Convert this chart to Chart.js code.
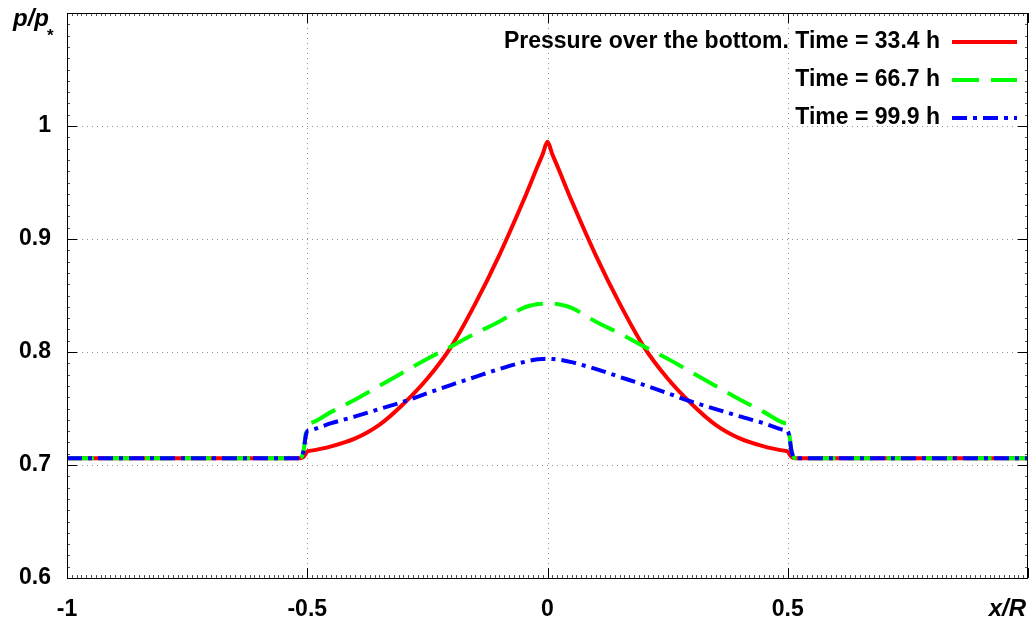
<!DOCTYPE html>
<html>
<head>
<meta charset="utf-8">
<script src="https://cdn.jsdelivr.net/npm/chart.js@4/dist/chart.umd.min.js"></script>
<style>
html,body{margin:0;padding:0;background:#fff;}
#wrap{position:relative;width:1030px;height:624px;}
</style>
</head>
<body>
<div id="wrap"><canvas id="c" width="1030" height="624"></canvas></div>
<script>
// x/R positions
const xValues = [-1, -0.515, -0.508, -0.503, -0.5, -0.495, -0.45, -0.4, -0.35, -0.3, -0.25, -0.2, -0.15, -0.1, -0.05, -0.02, -0.01, 0,
                 0.01, 0.02, 0.05, 0.1, 0.15, 0.2, 0.25, 0.3, 0.35, 0.4, 0.45, 0.495, 0.5, 0.503, 0.508, 0.515, 1];
// p/p* series
const time33 = [0.706, 0.706, 0.707, 0.710, 0.712, 0.7125, 0.7165, 0.7235, 0.7355, 0.754, 0.7765, 0.805, 0.843, 0.886, 0.934, 0.965, 0.975, 0.986,
                0.975, 0.965, 0.934, 0.886, 0.843, 0.805, 0.7765, 0.754, 0.7355, 0.7235, 0.7165, 0.7125, 0.712, 0.710, 0.707, 0.706, 0.706];
const time66 = [0.706, 0.706, 0.712, 0.728, 0.736, 0.737, 0.747, 0.758, 0.770, 0.782, 0.794, 0.805, 0.8165, 0.827, 0.839, 0.8424, 0.8428, 0.843,
                0.8428, 0.8424, 0.839, 0.827, 0.8165, 0.805, 0.794, 0.782, 0.770, 0.758, 0.747, 0.737, 0.736, 0.728, 0.712, 0.706, 0.706];
const time99 = [0.706, 0.706, 0.712, 0.726, 0.730, 0.7307, 0.737, 0.743, 0.7495, 0.756, 0.7635, 0.771, 0.778, 0.785, 0.791, 0.7935, 0.7938, 0.794,
                0.7938, 0.7935, 0.791, 0.785, 0.778, 0.771, 0.7635, 0.756, 0.7495, 0.743, 0.737, 0.7307, 0.730, 0.726, 0.712, 0.706, 0.706];
const seriesLabels = ["Pressure over the bottom. Time = 33.4 h", "Time = 66.7 h", "Time = 99.9 h"];
const xMajorTicks = [-1, -0.5, 0, 0.5, 1];
const yMajorTicks = [0.6, 0.7, 0.8, 0.9, 1.0, 1.1];
const yAxisTitle = "p/p";
const yAxisTitleSub = "*";
const xAxisTitle = "x/R";

const FONT = "'Liberation Sans', Arial, sans-serif";

function pts(ys){ return xValues.map((x,i)=>({x:x, y:ys[i]})); }

const colors = ['#ff0000', '#00ff00', '#0000ff'];
const dashes = [[], [27, 12], [15, 6, 4, 6]];

const framePlugin = {
  id: 'frame',
  beforeDatasetsDraw(chart){
    const {ctx, chartArea:a, scales:{x, y}} = chart;
    ctx.save();
    ctx.strokeStyle = '#909090';
    ctx.lineWidth = 1;
    ctx.setLineDash([1, 4]);
    xMajorTicks.forEach(v=>{
      if (v <= -1 || v >= 1) return;
      const px = Math.round(x.getPixelForValue(v)) + 0.5;
      ctx.beginPath(); ctx.moveTo(px, a.top); ctx.lineTo(px, a.bottom); ctx.stroke();
    });
    yMajorTicks.forEach(v=>{
      if (v <= 0.6 || v >= 1.1) return;
      const py = Math.round(y.getPixelForValue(v)) + 0.5;
      ctx.beginPath(); ctx.moveTo(a.left, py); ctx.lineTo(a.right, py); ctx.stroke();
    });
    ctx.restore();
  },
  afterDatasetsDraw(chart){
    const {ctx, chartArea:a, scales:{x, y}} = chart;
    ctx.save();
    ctx.setLineDash([]);
    ctx.lineWidth = 1;
    // minor ticks
    ctx.strokeStyle = '#555';
    for (let i = -100; i <= 100; i++) {
      const px = Math.round(x.getPixelForValue(i/100)) + 0.5;
      ctx.beginPath(); ctx.moveTo(px, a.bottom); ctx.lineTo(px, a.bottom - 3); ctx.stroke();
      ctx.beginPath(); ctx.moveTo(px, a.top); ctx.lineTo(px, a.top + 3); ctx.stroke();
    }
    for (let i = 60; i <= 110; i++) {
      const py = Math.round(y.getPixelForValue(i/100)) + 0.5;
      ctx.beginPath(); ctx.moveTo(a.left, py); ctx.lineTo(a.left + 3, py); ctx.stroke();
      ctx.beginPath(); ctx.moveTo(a.right, py); ctx.lineTo(a.right - 3, py); ctx.stroke();
    }
    // major ticks
    ctx.strokeStyle = '#000';
    xMajorTicks.forEach(v=>{
      const px = Math.round(x.getPixelForValue(v)) + 0.5;
      ctx.beginPath(); ctx.moveTo(px, a.bottom); ctx.lineTo(px, a.bottom - 10); ctx.stroke();
      ctx.beginPath(); ctx.moveTo(px, a.top); ctx.lineTo(px, a.top + 10); ctx.stroke();
    });
    yMajorTicks.forEach(v=>{
      const py = Math.round(y.getPixelForValue(v)) + 0.5;
      ctx.beginPath(); ctx.moveTo(a.left, py); ctx.lineTo(a.left + 10, py); ctx.stroke();
      ctx.beginPath(); ctx.moveTo(a.right, py); ctx.lineTo(a.right - 10, py); ctx.stroke();
    });
    // border
    ctx.strokeRect(Math.round(a.left) + 0.5, Math.round(a.top) + 0.5,
                   Math.round(a.right - a.left) - 1, Math.round(a.bottom - a.top));

    // legend
    ctx.font = 'bold 23px ' + FONT;
    ctx.textAlign = 'right';
    ctx.textBaseline = 'middle';
    ctx.fillStyle = '#000';
    const rows = [42, 80, 118];
    chart.data.datasets.forEach((ds, i)=>{
      ctx.fillText(seriesLabels[i], 940, rows[i]);
      ctx.save();
      ctx.strokeStyle = ds.borderColor;
      ctx.lineWidth = ds.borderWidth;
      ctx.setLineDash(ds.borderDash || []);
      ctx.beginPath(); ctx.moveTo(952, rows[i]); ctx.lineTo(1017, rows[i]); ctx.stroke();
      ctx.restore();
    });

    // axis titles
    ctx.font = 'italic bold 24px ' + FONT;
    ctx.textAlign = 'left';
    ctx.textBaseline = 'alphabetic';
    ctx.fillText(yAxisTitle, 13, 26);
    const w = ctx.measureText(yAxisTitle).width;
    ctx.font = 'bold 17px ' + FONT;
    ctx.fillText(yAxisTitleSub, 13 + w - 2, 41);
    ctx.font = 'italic bold 24px ' + FONT;
    ctx.textAlign = 'right';
    ctx.fillText(xAxisTitle, 1026, 616);
    ctx.restore();
  }
};

new Chart(document.getElementById('c'), {
  type: 'line',
  data: {
    datasets: [
      {label: seriesLabels[0], data: pts(time33), borderColor: colors[0], borderWidth: 4, borderDash: dashes[0], order: 2},
      {label: seriesLabels[1], data: pts(time66), borderColor: colors[1], borderWidth: 4, borderDash: dashes[1], order: 1},
      {label: seriesLabels[2], data: pts(time99), borderColor: colors[2], borderWidth: 4, borderDash: dashes[2], order: 0}
    ]
  },
  options: {
    responsive: false,
    animation: false,
    layout: {padding: {top: 13, right: 2, left: 0, bottom: 0}},
    elements: {point: {radius: 0}, line: {cubicInterpolationMode: 'monotone', fill: false}},
    plugins: {legend: {display: false}, tooltip: {enabled: false}},
    scales: {
      x: {
        type: 'linear', min: -1, max: 1,
        grid: {display: false, drawTicks: false, tickLength: 0}, border: {display: false},
        afterFit(s){ s.height = 46; s.paddingLeft = 0; s.paddingRight = 0; },
        afterBuildTicks(s){ s.ticks = xMajorTicks.map(v=>({value: v})); },
        ticks: {
          padding: 18, color: '#000', maxRotation: 0, autoSkip: false,
          font: {family: FONT, size: 23, weight: 'bold'},
          callback: (v)=> v >= 1 ? '' : String(v)
        }
      },
      y: {
        type: 'linear', min: 0.6, max: 1.1,
        grid: {display: false, drawTicks: false, tickLength: 0}, border: {display: false},
        afterFit(s){ s.width = 67; s.paddingTop = 0; s.paddingBottom = 0; },
        afterBuildTicks(s){ s.ticks = yMajorTicks.map(v=>({value: v})); },
        ticks: {
          padding: 16, color: '#000', autoSkip: false,
          font: {family: FONT, size: 23, weight: 'bold'},
          callback: (v)=> v >= 1.1 - 1e-9 ? '' : String(Math.round(v*10)/10)
        }
      }
    }
  },
  plugins: [framePlugin]
});
</script>
</body>
</html>
